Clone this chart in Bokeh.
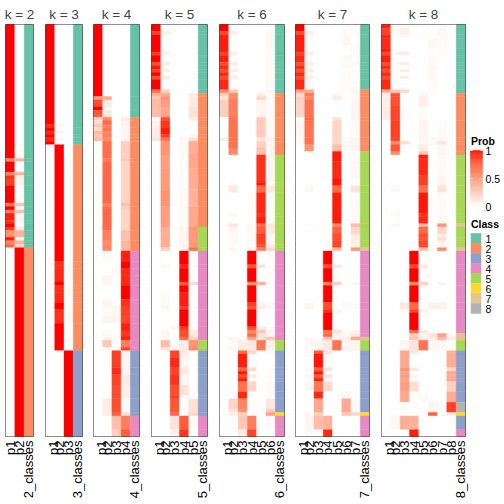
import math
from bokeh.plotting import figure
from bokeh.models import FactorRange, Range1d, ColumnDataSource
from bokeh.layouts import row
from bokeh.core.properties import value
from bokeh.embed import file_html
from bokeh.resources import INLINE

FONT = "Liberation Sans"
N_ROWS = 120
K_VALUES = [2, 3, 4, 5, 6, 7, 8]
CLASS_LABELS = ["1", "2", "3", "4", "5", "6", "7", "8"]
CLASS_COLORS = ["#66C2A5", "#FC8D62", "#8DA0CB", "#E78AC3",
                "#A6D854", "#FFD92F", "#E5C494", "#B3B3B3"]
PROB_BREAKS = [0, 0.5, 1]
PROB_LOW, PROB_HIGH = "#FFFFFF", "#FF0000"

# (rows, class, [p1..pk])
K2 = [
    (39, 1, [1, 0]), (1, 1, [0.6, 0.4]), (3, 1, [1, 0]), (1, 1, [0.6, 0.4]),
    (1, 1, [0.92, 0.08]), (2, 1, [0.9, 0.06]), (5, 1, [1, 0]), (1, 1, [0.68, 0.3]),
    (1, 1, [1, 0]), (1, 1, [0.65, 0.35]), (2, 1, [0.97, 0.03]), (1, 1, [0.93, 0.05]),
    (1, 1, [1, 0]), (1, 1, [0.9, 0.1]), (2, 1, [0.55, 0.4]), (1, 1, [0.97, 0.03]),
    (1, 1, [0.6, 0.4]), (1, 1, [0.75, 0.2]), (55, 2, [0, 1]),
]
K3 = [
    (29, 1, [1, 0, 0]), (1, 1, [0.93, 0.04, 0]), (1, 1, [1, 0, 0]), (1, 1, [0.95, 0.04, 0]),
    (1, 1, [1, 0, 0]), (1, 1, [0.95, 0.03, 0]), (1, 1, [1, 0, 0]),
    (34, 2, [0, 1, 0]), (2, 2, [0, 0.93, 0.03]), (4, 2, [0, 0.95, 0.02]), (1, 2, [0, 1, 0]),
    (2, 2, [0, 0.94, 0.03]), (3, 2, [0, 0.95, 0.02]), (2, 2, [0, 1, 0]),
    (4, 2, [0, 0.93, 0.03]), (8, 2, [0, 1, 0]),
    (25, 3, [0, 0, 1]),
]
K4 = [
    (21, 1, [1, 0, 0, 0]), (1, 1, [0.5, 0.45, 0, 0]), (2, 1, [0.85, 0.1, 0, 0]),
    (1, 1, [1, 0, 0, 0]), (2, 1, [0.8, 0.12, 0, 0]),
    (1, 2, [0.25, 0.6, 0, 0.1]), (1, 2, [0.15, 0.75, 0, 0.05]), (1, 2, [0.3, 0.65, 0, 0.05]),
    (1, 2, [0.2, 0.7, 0, 0.05]), (1, 2, [0.35, 0.6, 0, 0.05]), (1, 2, [0.3, 0.65, 0, 0.05]),
    (1, 2, [0.35, 0.6, 0, 0.05]), (5, 2, [0, 0.72, 0, 0.25]), (1, 2, [0, 0.68, 0, 0.3]),
    (12, 2, [0, 0.75, 0, 0.22]), (1, 2, [0, 0.65, 0, 0.32]), (1, 2, [0, 0.72, 0, 0.26]),
    (6, 2, [0, 0.75, 0, 0.22]), (3, 2, [0, 0.65, 0, 0.33]), (3, 2, [0, 0.6, 0, 0.38]),
    (3, 4, [0, 0.03, 0, 0.97]), (2, 4, [0, 0, 0, 1]), (2, 4, [0, 0, 0.04, 0.95]),
    (3, 4, [0, 0.04, 0, 0.95]), (4, 4, [0, 0, 0, 1]), (2, 4, [0, 0.05, 0, 0.93]),
    (3, 4, [0, 0.03, 0.05, 0.9]), (2, 4, [0, 0.06, 0.06, 0.88]), (2, 4, [0, 0, 0, 0.97]),
    (2, 4, [0, 0.03, 0, 0.92]), (1, 4, [0, 0.05, 0, 0.97]), (2, 4, [0, 0.3, 0, 0.65]),
    (1, 4, [0, 0.05, 0, 0.9]),
    (5, 3, [0, 0, 0.9, 0.05]), (2, 3, [0, 0, 0.95, 0.05]), (3, 3, [0, 0, 0.88, 0.1]),
    (4, 3, [0, 0, 0.85, 0.08]), (4, 3, [0, 0.1, 0.85, 0.03]), (1, 3, [0, 0.08, 0.8, 0.15]),
    (4, 4, [0, 0, 0.33, 0.65]), (2, 4, [0, 0, 0.25, 0.8]),
]
K5 = [
    (2, 1, [1, 0, 0, 0, 0]), (1, 1, [0.88, 0.1, 0, 0, 0]), (5, 1, [1, 0, 0, 0, 0]),
    (1, 1, [0.9, 0.08, 0, 0, 0]), (2, 1, [1, 0, 0, 0, 0]), (1, 1, [0.85, 0.12, 0, 0, 0]),
    (1, 1, [0.98, 0, 0, 0, 0]), (1, 1, [0.9, 0.1, 0, 0, 0]), (1, 1, [1, 0, 0, 0, 0]),
    (1, 1, [0.85, 0.12, 0, 0, 0]), (3, 1, [1, 0, 0, 0, 0]), (1, 1, [0.7, 0.25, 0, 0, 0]),
    (1, 2, [0.4, 0.45, 0, 0, 0.1]), (1, 2, [0.3, 0.55, 0, 0, 0.1]), (2, 2, [0.35, 0.5, 0, 0, 0.1]),
    (3, 2, [0.35, 0.45, 0, 0, 0.15]), (1, 2, [0, 0.85, 0, 0, 0.1]), (2, 2, [0.08, 0.92, 0, 0, 0]),
    (2, 2, [0.1, 0.97, 0, 0, 0]), (1, 2, [0.1, 0.9, 0, 0, 0.05]), (1, 2, [0.15, 0.7, 0, 0.05, 0.15]),
    (4, 2, [0, 0.55, 0, 0.03, 0.42]), (4, 2, [0, 0.5, 0, 0.03, 0.45]), (6, 2, [0, 0.52, 0, 0.02, 0.42]),
    (5, 2, [0, 0.55, 0, 0.03, 0.4]), (6, 2, [0, 0.5, 0, 0.03, 0.45]),
    (6, 5, [0, 0.42, 0, 0.05, 0.52]), (1, 5, [0, 0.25, 0, 0.05, 0.7]),
    (4, 4, [0, 0, 0, 1, 0]), (1, 4, [0, 0.05, 0, 0.95, 0.02]), (4, 4, [0, 0, 0, 1, 0]),
    (1, 4, [0, 0, 0, 0.8, 0.18]), (2, 4, [0, 0, 0, 1, 0]), (4, 4, [0, 0.03, 0, 0.97, 0]),
    (1, 4, [0, 0.05, 0, 0.9, 0.04]), (5, 4, [0, 0, 0, 1, 0]), (1, 4, [0, 0, 0.05, 0.9, 0.03]),
    (2, 4, [0, 0.05, 0, 0.85, 0.12]), (1, 4, [0, 0.05, 0, 0.72, 0.22]),
    (2, 5, [0, 0.35, 0, 0.1, 0.55]), (1, 5, [0, 0.15, 0.05, 0.1, 0.6]),
    (2, 3, [0, 0, 0.88, 0.1, 0]), (3, 3, [0, 0, 0.95, 0.05, 0]), (2, 3, [0, 0, 0.88, 0.12, 0]),
    (3, 3, [0, 0, 0.93, 0.05, 0]), (3, 3, [0, 0, 0.85, 0.15, 0]), (1, 3, [0, 0, 0.9, 0.05, 0]),
    (4, 3, [0, 0, 0.82, 0.02, 0.15]), (1, 3, [0, 0, 0.75, 0, 0.22]),
    (4, 4, [0, 0, 0.15, 0.8, 0.03]), (2, 4, [0, 0, 0.08, 0.92, 0]),
]
K6 = [
    (2, 1, [1, 0, 0, 0, 0, 0.02]), (1, 1, [0.85, 0.1, 0, 0, 0, 0.03]), (5, 1, [0.97, 0, 0, 0, 0, 0.03]),
    (1, 1, [0.88, 0.08, 0, 0, 0, 0.03]), (2, 1, [0.97, 0, 0, 0, 0, 0.02]), (1, 1, [0.85, 0.1, 0, 0, 0, 0.03]),
    (1, 1, [0.95, 0, 0, 0, 0, 0.03]), (1, 1, [0.85, 0.1, 0, 0, 0, 0.03]), (1, 1, [0.95, 0, 0, 0, 0, 0.03]),
    (1, 1, [0.85, 0.1, 0, 0, 0, 0.03]), (3, 1, [0.95, 0, 0, 0, 0, 0.03]), (1, 1, [0.6, 0.3, 0, 0, 0, 0.05]),
    (1, 2, [0.25, 0.6, 0, 0, 0.1, 0.03]), (1, 2, [0.15, 0.6, 0, 0, 0.22, 0.03]),
    (5, 2, [0.25, 0.65, 0, 0, 0.05, 0.03]), (6, 2, [0, 0.7, 0, 0, 0.27, 0.03]),
    (1, 2, [0.1, 0.7, 0, 0, 0.12, 0.08]), (2, 2, [0, 0.7, 0, 0, 0.25, 0.05]), (2, 2, [0, 0.6, 0, 0, 0.32, 0.05]),
    (8, 5, [0, 0, 0, 0, 0.93, 0.05]), (1, 5, [0, 0, 0, 0, 0.98, 0.02]), (2, 5, [0, 0.12, 0, 0, 0.75, 0.12]),
    (6, 5, [0, 0, 0, 0.02, 0.95, 0.03]), (1, 5, [0, 0.04, 0, 0.02, 0.93, 0.03]), (2, 5, [0, 0, 0, 0, 0.97, 0.02]),
    (1, 5, [0, 0.12, 0, 0.03, 0.72, 0.13]), (2, 5, [0, 0.04, 0, 0.04, 0.8, 0.1]),
    (3, 5, [0, 0.03, 0, 0.03, 0.9, 0.04]), (1, 5, [0, 0, 0, 0.03, 0.85, 0.1]), (1, 5, [0, 0.05, 0, 0.05, 0.65, 0.2]),
    (4, 4, [0, 0, 0, 1, 0, 0]), (1, 4, [0, 0, 0, 0.8, 0.15, 0]), (4, 4, [0, 0, 0, 1, 0, 0]),
    (1, 4, [0, 0, 0, 0.55, 0.4, 0.03]), (5, 4, [0, 0, 0, 1, 0, 0]), (1, 4, [0, 0, 0, 0.9, 0.05, 0.03]),
    (1, 4, [0, 0, 0, 0.82, 0.1, 0.03]), (5, 4, [0, 0, 0, 1, 0, 0]), (1, 4, [0, 0, 0, 0.85, 0.1, 0.03]),
    (1, 4, [0, 0, 0, 0.6, 0.3, 0.05]), (1, 4, [0, 0, 0, 0.75, 0.15, 0.05]), (1, 4, [0, 0.05, 0, 0.45, 0.15, 0.3]),
    (3, 5, [0, 0.03, 0.1, 0.12, 0.68, 0.07]),
    (1, 3, [0, 0, 0.75, 0.2, 0, 0.02]), (4, 3, [0, 0, 0.97, 0.02, 0, 0]), (1, 3, [0, 0, 0.75, 0.2, 0, 0.02]),
    (1, 3, [0, 0, 0.98, 0, 0, 0]), (1, 3, [0, 0, 0.85, 0.12, 0, 0.02]), (1, 3, [0, 0, 0.98, 0, 0, 0]),
    (3, 3, [0, 0, 0.7, 0.22, 0, 0.03]), (2, 3, [0, 0, 0.95, 0, 0, 0.02]), (3, 3, [0, 0.22, 0.62, 0, 0, 0.12]),
    (1, 3, [0, 0.15, 0.55, 0, 0, 0.25]),
    (1, 6, [0, 0.1, 0.25, 0, 0, 0.5]),
    (4, 4, [0, 0, 0.28, 0.65, 0, 0.03]), (2, 4, [0, 0, 0.1, 0.88, 0, 0]),
]
K7 = [
    (2, 1, [1, 0, 0, 0, 0, 0.02, 0.02]), (1, 1, [0.85, 0.1, 0, 0, 0, 0, 0.03]), (3, 1, [0.97, 0, 0, 0, 0, 0.04, 0]),
    (2, 1, [0.97, 0, 0, 0, 0, 0, 0.03]), (1, 1, [0.88, 0.08, 0, 0, 0, 0, 0.03]), (2, 1, [0.95, 0, 0, 0, 0, 0.04, 0]),
    (1, 1, [0.85, 0.1, 0, 0, 0, 0, 0.04]), (1, 1, [0.95, 0, 0, 0, 0, 0.03, 0]), (1, 1, [0.85, 0.1, 0, 0, 0, 0, 0.03]),
    (1, 1, [0.95, 0, 0, 0, 0, 0.03, 0]), (1, 1, [0.85, 0.1, 0, 0, 0, 0.03, 0]), (3, 1, [0.95, 0, 0, 0, 0, 0.03, 0.02]),
    (1, 2, [0.45, 0.45, 0, 0, 0, 0, 0.05]), (1, 2, [0.2, 0.7, 0, 0, 0.05, 0, 0.03]), (1, 2, [0.25, 0.6, 0, 0, 0.1, 0, 0.03]),
    (5, 2, [0.22, 0.7, 0, 0, 0, 0, 0.05]), (1, 2, [0, 0.75, 0, 0, 0.15, 0, 0.05]), (5, 2, [0.05, 0.7, 0, 0, 0.22, 0, 0.03]),
    (2, 2, [0.03, 0.7, 0, 0, 0.2, 0.03, 0.05]), (2, 2, [0, 0.55, 0, 0, 0.35, 0.03, 0.05]),
    (3, 5, [0, 0, 0, 0, 0.97, 0, 0.02]), (5, 5, [0, 0, 0, 0, 0.95, 0, 0.04]), (2, 5, [0, 0, 0, 0, 0.98, 0, 0]),
    (2, 5, [0, 0.04, 0, 0, 0.75, 0, 0.15]), (9, 5, [0, 0, 0, 0, 0.97, 0, 0.03]), (1, 5, [0, 0.03, 0, 0, 0.6, 0, 0.35]),
    (2, 5, [0, 0, 0, 0, 0.78, 0, 0.2]), (2, 5, [0, 0, 0, 0, 0.85, 0, 0.1]), (2, 5, [0, 0, 0, 0, 0.88, 0, 0.08]),
    (1, 7, [0, 0, 0, 0, 0.38, 0, 0.55]),
    (4, 4, [0, 0, 0, 1, 0, 0, 0]), (1, 4, [0, 0, 0, 0.85, 0.12, 0, 0]), (4, 4, [0, 0, 0, 1, 0, 0, 0]),
    (1, 4, [0, 0, 0, 0.65, 0.25, 0, 0.05]), (5, 4, [0, 0, 0, 1, 0, 0, 0]), (2, 4, [0, 0.05, 0, 0.85, 0, 0.03, 0.03]),
    (1, 4, [0, 0, 0, 0.95, 0.05, 0, 0]), (5, 4, [0, 0, 0, 1, 0, 0, 0]), (1, 4, [0, 0, 0, 0.7, 0.15, 0.02, 0.07]),
    (1, 4, [0, 0, 0, 0.75, 0.05, 0.05, 0.1]),
    (1, 7, [0, 0.03, 0, 0.3, 0.05, 0.1, 0.45]),
    (3, 5, [0, 0.03, 0.05, 0.12, 0.7, 0.05, 0.05]),
    (1, 3, [0, 0.03, 0.8, 0.15, 0, 0, 0]), (4, 3, [0, 0, 0.98, 0.02, 0, 0, 0]), (1, 3, [0, 0.04, 0.78, 0.15, 0, 0, 0]),
    (1, 3, [0, 0, 0.98, 0, 0, 0, 0]), (1, 3, [0, 0.04, 0.8, 0.15, 0, 0, 0]), (1, 3, [0, 0, 0.97, 0.02, 0, 0, 0]),
    (3, 3, [0, 0.05, 0.68, 0.2, 0, 0, 0]), (2, 3, [0, 0, 0.95, 0, 0, 0.05, 0]), (4, 3, [0, 0, 0.45, 0, 0, 0.44, 0.03]),
    (1, 6, [0, 0.05, 0.25, 0, 0, 0.3, 0.22]),
    (4, 4, [0, 0.05, 0.35, 0.4, 0, 0, 0]), (2, 4, [0, 0.03, 0.02, 0.95, 0, 0, 0]),
]
K8 = [
    (1, 1, [0.97, 0, 0, 0, 0, 0, 0.03, 0]), (2, 1, [0.88, 0.03, 0.08, 0, 0, 0, 0.03, 0]),
    (1, 1, [0.95, 0, 0.04, 0, 0, 0, 0.02, 0]), (3, 1, [0.95, 0, 0, 0, 0, 0.04, 0.02, 0]),
    (1, 1, [0.97, 0, 0, 0, 0, 0, 0.03, 0]), (1, 1, [0.85, 0.04, 0.1, 0, 0, 0, 0.02, 0]),
    (2, 1, [0.97, 0, 0, 0, 0, 0.03, 0, 0]), (1, 1, [0.85, 0.03, 0.1, 0, 0, 0.03, 0, 0]),
    (1, 1, [0.95, 0, 0, 0, 0, 0.04, 0, 0]), (1, 1, [0.85, 0.03, 0.1, 0, 0, 0.03, 0, 0]),
    (1, 1, [0.95, 0, 0, 0, 0, 0.04, 0, 0]), (1, 1, [0.85, 0.03, 0.1, 0, 0, 0.02, 0, 0]),
    (3, 1, [0.95, 0, 0, 0, 0, 0.03, 0, 0]), (1, 1, [0.42, 0.3, 0.2, 0, 0, 0.03, 0, 0]),
    (1, 2, [0.1, 0.85, 0, 0, 0.05, 0, 0, 0]), (3, 2, [0.08, 0.85, 0, 0, 0.08, 0, 0, 0]),
    (4, 2, [0.1, 0.88, 0.03, 0, 0.02, 0, 0, 0]), (5, 2, [0, 0.9, 0, 0, 0.06, 0, 0.02, 0]),
    (1, 2, [0, 0.88, 0, 0, 0.05, 0.04, 0.04, 0]), (1, 2, [0, 0.6, 0.2, 0, 0.03, 0.03, 0.15, 0]),
    (2, 2, [0, 0.82, 0, 0, 0.1, 0, 0.04, 0]), (1, 2, [0, 0.6, 0, 0, 0.3, 0, 0.05, 0]),
    (1, 5, [0, 0, 0, 0, 0.97, 0, 0.03, 0]), (5, 5, [0, 0, 0, 0, 0.95, 0, 0.02, 0]),
    (3, 5, [0, 0, 0, 0, 0.9, 0, 0.06, 0]), (2, 5, [0, 0.04, 0, 0, 0.72, 0, 0.15, 0]),
    (6, 5, [0, 0, 0, 0, 0.98, 0, 0.02, 0]), (1, 5, [0, 0.04, 0, 0, 0.93, 0, 0.03, 0]),
    (2, 5, [0, 0, 0, 0, 0.95, 0, 0.04, 0]), (1, 7, [0, 0.04, 0, 0, 0.35, 0, 0.55, 0]),
    (2, 5, [0, 0, 0, 0, 0.75, 0, 0.22, 0]), (1, 5, [0, 0, 0, 0, 0.85, 0, 0.08, 0]),
    (1, 5, [0, 0, 0, 0, 0.82, 0, 0.18, 0]), (2, 5, [0, 0, 0, 0, 0.88, 0, 0.05, 0]),
    (1, 7, [0, 0, 0, 0, 0.35, 0, 0.6, 0]),
    (4, 4, [0, 0, 0, 1, 0.01, 0, 0, 0]), (1, 4, [0, 0, 0, 0.85, 0.12, 0, 0, 0]),
    (4, 4, [0, 0, 0, 1, 0, 0, 0, 0]), (1, 4, [0, 0, 0, 0.6, 0.25, 0, 0.04, 0]),
    (5, 4, [0, 0, 0, 1, 0, 0, 0, 0]), (2, 4, [0, 0, 0.12, 0.75, 0, 0.08, 0.08, 0]),
    (1, 4, [0, 0, 0, 0.88, 0.08, 0, 0, 0]), (5, 4, [0, 0, 0, 1, 0, 0, 0, 0]),
    (1, 4, [0, 0, 0, 0.75, 0.12, 0, 0, 0]),
    (1, 7, [0, 0, 0, 0.25, 0.05, 0.15, 0.5, 0.05]), (1, 7, [0, 0, 0, 0.3, 0.1, 0.1, 0.35, 0.1]),
    (3, 5, [0, 0, 0.05, 0.15, 0.7, 0.05, 0.05, 0]),
    (1, 3, [0, 0, 0.45, 0.12, 0, 0, 0, 0.4]), (4, 3, [0, 0, 0.45, 0, 0, 0, 0, 0.42]),
    (1, 3, [0, 0, 0.55, 0.12, 0, 0, 0, 0.2]), (1, 3, [0, 0, 0.48, 0, 0, 0, 0, 0.45]),
    (1, 3, [0, 0, 0.5, 0.06, 0, 0, 0, 0.42]), (1, 3, [0, 0, 0.48, 0, 0, 0, 0, 0.47]),
    (3, 3, [0, 0, 0.5, 0.18, 0, 0, 0, 0.25]), (3, 3, [0, 0, 0.45, 0, 0.02, 0, 0, 0.42]),
    (3, 8, [0, 0, 0, 0, 0, 0.05, 0.03, 0.9]),
    (1, 6, [0, 0.02, 0, 0, 0, 0.78, 0, 0.1]),
    (4, 3, [0, 0.04, 0.42, 0.4, 0, 0, 0, 0]),
    (2, 4, [0, 0, 0, 0.97, 0, 0, 0, 0]),
]
SEGMENTS = {2: K2, 3: K3, 4: K4, 5: K5, 6: K6, 7: K7, 8: K8}


# ---- colour ramp white -> red interpolated in CIE LAB ----
def _to_lab(hexcol):
    rgb = [int(hexcol[i:i + 2], 16) / 255 for i in (1, 3, 5)]
    lin = [c / 12.92 if c <= 0.04045 else ((c + 0.055) / 1.055) ** 2.4 for c in rgb]
    X = (0.4124 * lin[0] + 0.3576 * lin[1] + 0.1805 * lin[2]) / 0.95047
    Y = (0.2126 * lin[0] + 0.7152 * lin[1] + 0.0722 * lin[2])
    Z = (0.0193 * lin[0] + 0.1192 * lin[1] + 0.9505 * lin[2]) / 1.08883
    f = lambda t: t ** (1 / 3) if t > 0.008856 else 7.787 * t + 16 / 116
    fx, fy, fz = f(X), f(Y), f(Z)
    return (116 * fy - 16, 500 * (fx - fy), 200 * (fy - fz))


def _from_lab(L, a, b):
    fy = (L + 16) / 116
    fx, fz = fy + a / 500, fy - b / 200
    finv = lambda t: t ** 3 if t ** 3 > 0.008856 else (t - 16 / 116) / 7.787
    X, Y, Z = 0.95047 * finv(fx), finv(fy), 1.08883 * finv(fz)
    lin = [3.2406 * X - 1.5372 * Y - 0.4986 * Z,
           -0.9689 * X + 1.8758 * Y + 0.0415 * Z,
           0.0557 * X - 0.2040 * Y + 1.0570 * Z]
    out = []
    for c in lin:
        c = max(0.0, min(1.0, c))
        c = 12.92 * c if c <= 0.0031308 else 1.055 * c ** (1 / 2.4) - 0.055
        out.append(int(round(max(0, min(1, c)) * 255)))
    return "#%02X%02X%02X" % tuple(out)


LAB_LOW, LAB_HIGH = _to_lab(PROB_LOW), _to_lab(PROB_HIGH)


def prob_color(v):
    return _from_lab(*[lo + (hi - lo) * v for lo, hi in zip(LAB_LOW, LAB_HIGH)])


FRAME_H = 412
TOP = 24
BOTTOM = 64
GAPS_RIGHT = [12, 11, 12, 12, 11, 12, 4]


def make_panel(k, gap_left, gap_right):
    segs = SEGMENTS[k]
    factors = [f"p{i}" for i in range(1, k + 1)] + [f"{k}_classes"]
    xs, ys, hs, cs = [], [], [], []
    start = 0
    for n, cls, probs in segs:
        for i, v in enumerate(probs):
            xs.append(factors[i]); ys.append(start + n / 2); hs.append(n); cs.append(prob_color(v))
        xs.append(factors[-1]); ys.append(start + n / 2); hs.append(n); cs.append(CLASS_COLORS[cls - 1])
        start += n
    src = ColumnDataSource(dict(x=xs, y=ys, h=hs, c=cs))
    p = figure(x_range=FactorRange(factors=factors), y_range=Range1d(N_ROWS, 0),
               frame_width=round(9.3 * (k + 1)), frame_height=FRAME_H,
               min_border_left=gap_left, min_border_right=gap_right,
               min_border_top=TOP, min_border_bottom=BOTTOM,
               output_backend="svg", toolbar_location=None, title=f"k = {k}")
    p.rect(x="x", y="y", width=1, height="h", source=src,
           fill_color="c", line_color="c", line_width=0.4)
    p.title.align = "center"
    p.title.text_font = FONT
    p.title.text_font_size = "13.5px"
    p.title.text_font_style = "normal"
    p.title.standoff = 6
    p.yaxis.visible = False
    p.xgrid.visible = False
    p.ygrid.visible = False
    ax = p.xaxis[0]
    ax.major_label_orientation = math.pi / 2
    ax.axis_line_color = None
    ax.major_tick_line_color = None
    ax.minor_tick_line_color = None
    ax.major_tick_out = 0
    ax.major_tick_in = 0
    ax.major_label_standoff = 4
    ax.major_label_text_font = FONT
    ax.major_label_text_font_size = "13px"
    ax.major_label_text_color = "black"
    p.outline_line_color = "#444444"
    p.outline_line_width = 1
    return p


panels = []
for idx, k in enumerate(K_VALUES):
    panels.append(make_panel(k, 5 if idx == 0 else 0, GAPS_RIGHT[idx]))

# ---- legend panel (coordinates are pixels on the page) ----
LX0 = 469
LW = 35
lg = figure(x_range=Range1d(LX0, LX0 + LW), y_range=Range1d(TOP + FRAME_H, TOP),
            frame_width=LW, frame_height=FRAME_H, min_border_left=0, min_border_right=0,
            min_border_top=TOP, min_border_bottom=BOTTOM,
            output_backend="svg", toolbar_location=None)
lg.axis.visible = False
lg.grid.visible = False
lg.outline_line_color = None

BAR_L, BAR_R = 470, 482
bar_top, bar_bot = 150, 206
steps = 60
vals = [i / steps for i in range(steps)]
lg.quad(left=BAR_L, right=BAR_R,
        bottom=[bar_bot - (bar_bot - bar_top) * v for v in vals],
        top=[bar_bot - (bar_bot - bar_top) * (v + 1 / steps) for v in vals],
        fill_color=[prob_color(v + 0.5 / steps) for v in vals],
        line_color=[prob_color(v + 0.5 / steps) for v in vals], line_width=0.5)
tick_y = [bar_bot - (bar_bot - bar_top) * b for b in PROB_BREAKS]
lg.segment(x0=BAR_L, x1=BAR_L + 2, y0=tick_y, y1=tick_y, line_color="white", line_width=1)
lg.segment(x0=BAR_R - 2, x1=BAR_R, y0=tick_y, y1=tick_y, line_color="white", line_width=1)
lg.text(x=BAR_R + 3, y=tick_y, text=[f"{b:g}" for b in PROB_BREAKS], text_font=value(FONT),
        text_font_size="10.5px", text_baseline="middle", text_color="black")
lg.text(x=[BAR_L + 0.5, BAR_L + 0.5], y=[140, 223], text=["Prob", "Class"], text_font=value(FONT),
        text_font_size="10.5px", text_font_style="bold", text_baseline="middle", text_color="black")
sq_top = 233
lg.quad(left=BAR_L + 0.5, right=BAR_L + 10.5, top=[sq_top + 10 * i for i in range(len(CLASS_LABELS))],
        bottom=[sq_top + 10 * (i + 1) for i in range(len(CLASS_LABELS))],
        fill_color=CLASS_COLORS, line_color=CLASS_COLORS, line_width=0.5)
lg.text(x=BAR_R + 3, y=[sq_top + 10 * i + 5 for i in range(len(CLASS_LABELS))], text=CLASS_LABELS,
        text_font=value(FONT), text_font_size="10.5px", text_baseline="middle", text_color="black")

layout = row(*panels, lg)
open("out.html", "w").write(file_html(layout, INLINE))
